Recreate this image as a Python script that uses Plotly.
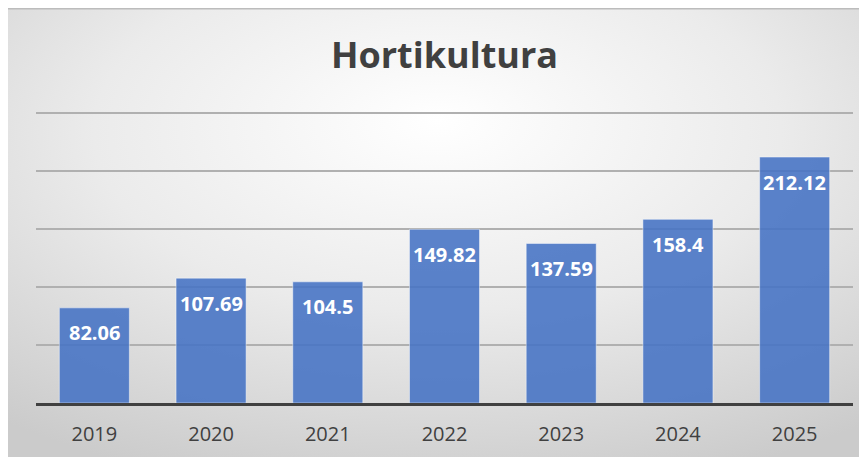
import base64
import plotly.graph_objects as go

years = ["2019", "2020", "2021", "2022", "2023", "2024", "2025"]
values = [82.06, 107.69, 104.5, 149.82, 137.59, 158.4, 212.12]
labels = ["82.06", "107.69", "104.5", "149.82", "137.59", "158.4", "212.12"]
title_text = "Hortikultura"

W, H = 859, 449
L, R, T, B = 28, 14, 104, 54
pw, ph = W - L - R, H - T - B

svg = (
    '<svg xmlns="http://www.w3.org/2000/svg" width="859" height="449" viewBox="0 0 859 449" preserveAspectRatio="none">'
    '<defs><radialGradient id="g" cx="0.5" cy="0.3" r="0.8" fx="0.5" fy="0.25">'
    '<stop offset="0" stop-color="#ffffff"/><stop offset="0.5" stop-color="#ebebeb"/><stop offset="1" stop-color="#cbcbcb"/>'
    '</radialGradient></defs><rect width="859" height="449" fill="url(#g)"/></svg>'
)
src = "data:image/svg+xml;base64," + base64.b64encode(svg.encode()).decode()

fig = go.Figure()
fig.add_trace(go.Bar(
    x=years, y=values,
    marker=dict(color="rgba(68,114,196,0.88)", line=dict(color="rgba(255,255,255,0.45)", width=1)),
    hoverinfo="skip",
))

for i, (v, t) in enumerate(zip(values, labels)):
    fig.add_annotation(x=i, y=v, text=t, showarrow=False, yshift=-25,
                       font=dict(family="Open Sans", size=20, color="white", weight="bold"),
                       xref="x", yref="y")

fig.add_layout_image(dict(
    source=src, xref="paper", yref="paper",
    x=-L / pw, y=(H - B) / ph,
    sizex=W / pw, sizey=H / ph,
    xanchor="left", yanchor="top", sizing="stretch", layer="below",
))

fig.add_shape(type="line", xref="paper", yref="paper",
              x0=-L / pw, x1=(W - L) / pw,
              y0=(H - B - 0.75) / ph, y1=(H - B - 0.75) / ph,
              line=dict(color="#bcbcbc", width=1.5))

fig.update_layout(
    width=W, height=H,
    margin=dict(l=L, r=R, t=T, b=B, autoexpand=False),
    paper_bgcolor="white",
    plot_bgcolor="rgba(0,0,0,0)",
    bargap=0.4,
    showlegend=False,
    title=dict(text=title_text, x=0.5, xref="paper", xanchor="center",
               y=1 - 47 / H, yanchor="middle",
               font=dict(family="Open Sans", size=36, color="#404040", weight="bold")),
    xaxis=dict(type="category", range=[-0.5, len(years) - 0.5], showgrid=False,
               showline=True, linecolor="#404040", linewidth=3,
               ticks="outside", ticklen=11, tickcolor="rgba(0,0,0,0)",
               tickfont=dict(family="Open Sans", size=20, color="#404040")),
    yaxis=dict(range=[0, 251], dtick=50, showgrid=True, gridcolor="#b0b0b0", gridwidth=1.5,
               showticklabels=False, zeroline=False, showline=False, ticks=""),
)

fig.write_html("out.html")
